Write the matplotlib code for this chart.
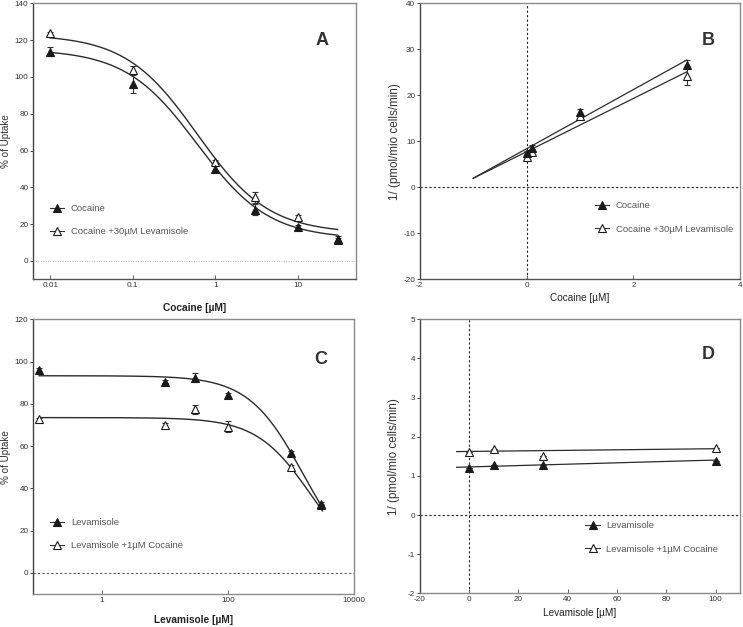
import numpy as np
import matplotlib
matplotlib.use("Agg")
import matplotlib.pyplot as plt
from matplotlib.lines import Line2D

plt.rcParams['font.family'] = ['Liberation Sans', 'DejaVu Sans']
plt.rcParams['axes.unicode_minus'] = False

# ---------------- Data ----------------
# Panel A: cocaine dose-response
a_x = [0.01, 0.1, 1, 3, 10, 30]
a_coc = [113.8, 96.1, 50.2, 27.7, 18.7, 12.1]
a_coc_err = [2.5, 5.0, 1.5, 3.0, 1.0, 1.5]
a_lev = [123.6, 103.7, 53.5, 34.6, 23.9, 11.4]
a_lev_err = [1.0, 2.0, 1.5, 3.0, 1.0, 1.0]
# fitted sigmoid params (top, bottom, IC50, hill)
a_fit_coc = (115.0, 12.0, 0.6, 1.0)
a_fit_lev = (123.0, 15.0, 0.6, 1.0)

# Panel B: cocaine replot
b_x = [0, 0.1, 1, 3]
b_coc = [7.4, 8.6, 16.4, 26.7]
b_coc_err = [0.5, 0.5, 0.6, 1.0]
b_lev = [6.7, 7.75, 15.4, 24.3]
b_lev_err = [0.5, 0.5, 0.6, 2.0]
b_line_x = [-1, 3]
b_line_coc = (6.43, 8.4)   # slope, intercept
b_line_lev = (5.79, 7.75)

# Panel C: levamisole dose-response
c_x = [0.1, 10, 30, 100, 1000, 3000]
c_lev = [96.0, 90.5, 92.4, 84.2, 56.8, 32.0]
c_lev_err = [0.8, 0.8, 2.0, 1.0, 1.0, 0.8]
c_coc = [72.6, 70.0, 77.4, 69.2, 50.2, 32.8]
c_coc_err = [0.8, 0.8, 2.0, 2.5, 1.0, 0.8]
c_fit_lev = (93.3, 0.0, 1570.0, 1.0)
c_fit_coc = (73.5, 0.0, 2100.0, 1.0)

# Panel D: levamisole replot
d_x = [0, 10, 30, 100]
d_lev = [1.19, 1.28, 1.27, 1.39]
d_coc = [1.62, 1.69, 1.52, 1.72]
d_line_x = [-5, 100]
d_line_lev = (0.00176, 1.229)
d_line_coc = (0.0007, 1.625)

DARK = '#2b2b2b'
GRAY = '#8a8a8a'
TICK_FS = 5.9


def sigmoid(x, p):
    top, bottom, ic50, h = p
    x = np.asarray(x, dtype=float)
    return bottom + (top - bottom) / (1.0 + (x / ic50) ** h)


fig = plt.figure(figsize=(7.43, 6.27), dpi=100)
axA = fig.add_axes([0.0444, 0.5545, 0.4346, 0.4402])
axB = fig.add_axes([0.5649, 0.5545, 0.4315, 0.4402])
axC = fig.add_axes([0.0444, 0.0526, 0.4320, 0.4381])
axD = fig.add_axes([0.5649, 0.0537, 0.4315, 0.4370])


def style(ax):
    for s in ['top', 'right']:
        ax.spines[s].set_color(GRAY)
        ax.spines[s].set_linewidth(1.0)
    ax.spines['left'].set_color('#444444')
    ax.spines['bottom'].set_color('#555555')
    ax.spines['left'].set_linewidth(1.0)
    ax.spines['bottom'].set_linewidth(1.0)
    ax.tick_params(axis='y', direction='out', length=2.2, width=0.7,
                   colors='#444444', labelsize=TICK_FS, labelcolor='#333333', pad=1.0)
    ax.tick_params(axis='x', direction='in', length=3, width=0.7,
                   colors='#666666', labelsize=TICK_FS, labelcolor='#333333', pad=2.0)
    ax.tick_params(which='minor', length=0)


def plot_series(ax, x, y, err, filled):
    mfc = '#1a1a1a' if filled else 'white'
    ax.errorbar(x, y, yerr=err, fmt='none', ecolor='#333333', elinewidth=0.8,
                capsize=2.5, capthick=0.8, zorder=3)
    ax.plot(x, y, linestyle='none', marker='^', markersize=6, mfc=mfc,
            mec='#1a1a1a', mew=0.8, zorder=4)


def legend(ax, labels, x, y):
    h = [Line2D([], [], color='#333333', lw=0.8, marker='^', markersize=6,
                mfc='#1a1a1a', mec='#1a1a1a', mew=0.8),
         Line2D([], [], color='#333333', lw=0.8, marker='^', markersize=6,
                mfc='white', mec='#1a1a1a', mew=0.8)]
    lg = ax.legend(h, labels, loc='center left', bbox_to_anchor=(x, y),
                   frameon=False, fontsize=6.8, handlelength=1.5,
                   handletextpad=0.7, labelspacing=1.5, borderpad=0,
                   borderaxespad=0)
    for t in lg.get_texts():
        t.set_color('#555555')


# ---------- Panel A ----------
axA.set_xscale('log')
xs = np.logspace(np.log10(a_x[0]), np.log10(a_x[-1]), 300)
axA.plot(xs, sigmoid(xs, a_fit_coc), color=DARK, lw=1.0, zorder=2)
axA.plot(xs, sigmoid(xs, a_fit_lev), color=DARK, lw=1.0, zorder=2)
plot_series(axA, a_x, a_lev, a_lev_err, False)
plot_series(axA, a_x, a_coc, a_coc_err, True)
axA.axhline(0, color='#bbbbbb', lw=0.7, ls=(0, (1, 1.5)), zorder=1)
axA.set_xlim(0.0062, 50)
axA.set_ylim(-10, 140)
axA.set_xticks([0.01, 0.1, 1, 10])
axA.set_xticklabels(['0.01', '0.1', '1', '10'])
axA.set_yticks(np.arange(0, 141, 20))
style(axA)
axA.set_ylabel('% of Uptake', fontsize=7.1, color='#333333', labelpad=2.5)
axA.set_xlabel('Cocaine [µM]', fontsize=7.3, color='#222222', labelpad=10,
               fontweight='semibold')
axA.text(0.895, 0.865, 'A', transform=axA.transAxes, fontsize=13,
         fontweight='bold', color='#333333', ha='center', va='center')
legend(axA, ['Cocaine', 'Cocaine +30µM Levamisole'], 0.053, 0.215)

# ---------- Panel B ----------
lx = np.array(b_line_x, dtype=float)
axB.plot(lx, b_line_coc[0] * lx + b_line_coc[1], color=DARK, lw=0.9, zorder=2)
axB.plot(lx, b_line_lev[0] * lx + b_line_lev[1], color=DARK, lw=0.9, zorder=2)
plot_series(axB, b_x, b_lev, b_lev_err, False)
plot_series(axB, b_x, b_coc, b_coc_err, True)
axB.axhline(0, color='#222222', lw=0.8, ls=(0, (2, 2)), zorder=1)
axB.axvline(0, color='#222222', lw=0.8, ls=(0, (2, 2)), zorder=1)
axB.set_xlim(-2, 4)
axB.set_ylim(-20, 40)
axB.set_xticks([-2, 0, 2, 4])
axB.set_yticks(np.arange(-20, 41, 10))
style(axB)
axB.set_ylabel('1/ (pmol/mio cells/min)', fontsize=8.4, color='#333333',
               labelpad=1.5)
axB.set_xlabel('Cocaine [µM]', fontsize=7.2, color='#222222', labelpad=3)
axB.text(0.9, 0.865, 'B', transform=axB.transAxes, fontsize=13,
         fontweight='bold', color='#333333', ha='center', va='center')
legend(axB, ['Cocaine', 'Cocaine +30µM Levamisole'], 0.547, 0.224)

# ---------- Panel C ----------
axC.set_xscale('log')
xs = np.logspace(np.log10(c_x[0]), np.log10(c_x[-1] * 1.054), 300)
axC.plot(xs, sigmoid(xs, c_fit_lev), color=DARK, lw=1.0, zorder=2)
axC.plot(xs, sigmoid(xs, c_fit_coc), color=DARK, lw=1.0, zorder=2)
plot_series(axC, c_x, c_coc, c_coc_err, False)
plot_series(axC, c_x, c_lev, c_lev_err, True)
axC.axhline(0, color='#555555', lw=0.8, ls=(0, (2, 2)), zorder=1)
axC.set_xlim(0.08, 10000)
axC.set_ylim(-10, 120)
axC.set_xticks([1, 100, 10000])
axC.set_xticklabels(['1', '100', '10000'])
axC.set_yticks(np.arange(0, 121, 20))
style(axC)
axC.spines['bottom'].set_color(GRAY)
axC.set_ylabel('% of Uptake', fontsize=7.1, color='#333333', labelpad=2.5)
axC.set_xlabel('Levamisole [µM]', fontsize=7.3, color='#222222', labelpad=8,
               fontweight='semibold')
axC.text(0.895, 0.855, 'C', transform=axC.transAxes, fontsize=13,
         fontweight='bold', color='#333333', ha='center', va='center')
legend(axC, ['Levamisole', 'Levamisole +1µM Cocaine'], 0.053, 0.218)

# ---------- Panel D ----------
lx = np.array(d_line_x, dtype=float)
axD.plot(lx, d_line_lev[0] * lx + d_line_lev[1], color=DARK, lw=0.9, zorder=2)
axD.plot(lx, d_line_coc[0] * lx + d_line_coc[1], color=DARK, lw=0.9, zorder=2)
plot_series(axD, d_x, d_coc, [0, 0, 0, 0], False)
plot_series(axD, d_x, d_lev, [0, 0, 0, 0], True)
axD.axhline(0, color='#222222', lw=0.8, ls=(0, (2, 2)), zorder=1)
axD.axvline(0, color='#222222', lw=0.8, ls=(0, (2, 2)), zorder=1)
axD.set_xlim(-20, 110)
axD.set_ylim(-2, 5)
axD.set_xticks(np.arange(-20, 101, 20))
axD.set_yticks(np.arange(-2, 6, 1))
style(axD)
axD.spines['bottom'].set_color(GRAY)
axD.set_ylabel('1/ (pmol/mio cells/min)', fontsize=8.4, color='#333333',
               labelpad=6)
axD.set_xlabel('Levamisole [µM]', fontsize=7.2, color='#222222', labelpad=3.5)
axD.text(0.9, 0.87, 'D', transform=axD.transAxes, fontsize=13,
         fontweight='bold', color='#333333', ha='center', va='center')
legend(axD, ['Levamisole', 'Levamisole +1µM Cocaine'], 0.517, 0.204)

fig.savefig('out.png', dpi=100, facecolor='white')
